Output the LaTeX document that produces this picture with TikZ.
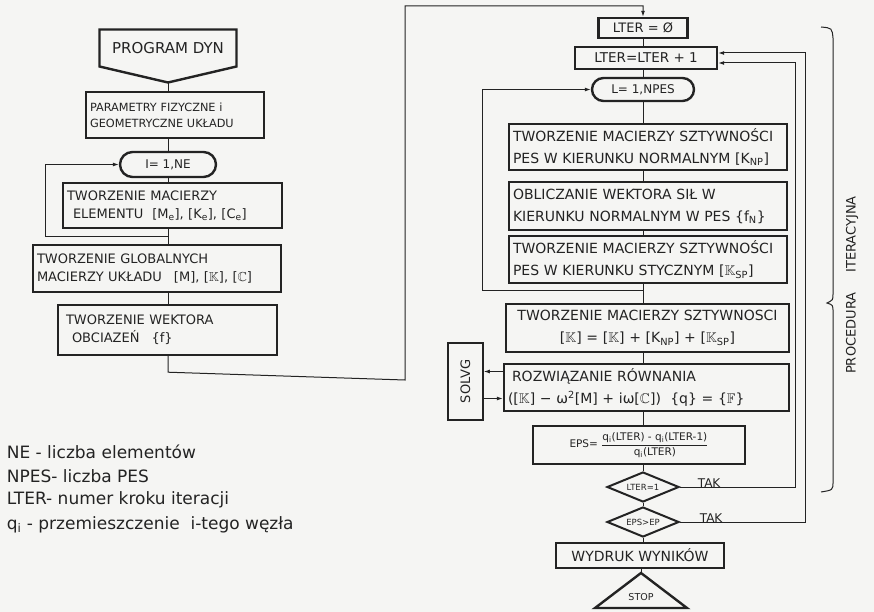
\documentclass[tikz,border=0pt]{standalone}
\usepackage{fontspec}
\usepackage{amsmath,amssymb}
\setmainfont{DejaVu Sans}
\usetikzlibrary{calc, positioning, arrows.meta, shapes.geometric, shapes.misc}
\definecolor{paper}{RGB}{245,245,243}
\definecolor{ink}{RGB}{35,35,35}
\newcommand{\dbl}[1]{$\mathbb{#1}$}

\begin{document}
\begin{tikzpicture}[x=1pt, y=-1pt, ink, line width=1pt,
  box/.style={draw=ink, line width=2.4pt, inner sep=4pt, align=left, font=\fontsize{13}{18}\selectfont},
  wide/.style={box, font=\fontsize{14}{22}\selectfont},
  loopbox/.style={rounded rectangle, draw=ink, line width=2.4pt, inner sep=2pt, font=\fontsize{12}{14}\selectfont},
  test/.style={diamond, aspect=2.5, draw=ink, line width=2pt, inner sep=0pt, font=\fontsize{8.5}{9}\selectfont},
  line/.style={draw=ink, line width=1pt},
  arrow/.style={line, -{Latex[length=6pt,width=4pt]}},
  lbl/.style={font=\fontsize{12}{14}\selectfont},
  note/.style={anchor=west, font=\fontsize{17}{20}\selectfont}]
  \fill[paper] (0,0) rectangle (874,612);
  \useasboundingbox (0,0) rectangle (874,612);

  % left column
  \node[font=\fontsize{15}{17}\selectfont, minimum width=136pt, minimum height=36pt] (prog) at (168,48) {PROGRAM DYN};
  \coordinate (progtip) at ($(prog.south)+(0,16)$);
  \draw[line width=2.4pt] (prog.north west) -- (prog.north east) -- (prog.south east) -- (progtip) -- (prog.south west) -- cycle;
  \node[box, font=\fontsize{11.3}{16}\selectfont, text width=170pt, minimum height=46pt] (param) at (175,115) {PARAMETRY FIZYCZNE i\\GEOMETRYCZNE UKŁADU};
  \node[loopbox, minimum width=100pt, minimum height=25pt] (ine) at (168,164.5) {I= 1,NE};
  \node[box, text width=211pt, minimum height=45pt] (elem) at (172.5,205.5) {TWORZENIE MACIERZY\\\hspace*{6pt}ELEMENTU\hspace{9pt}[M\textsubscript{e}], [K\textsubscript{e}], [C\textsubscript{e}]};
  \node[box, text width=240pt, minimum height=47pt] (glob) at (157,268.5) {TWORZENIE GLOBALNYCH\\MACIERZY UKŁADU\hspace{12pt}[M], [\dbl{K}], [\dbl{C}]};
  \node[box, text width=211pt, minimum height=50pt] (wekt) at (167.5,330) {\hspace*{4pt}TWORZENIE WEKTORA\\\hspace*{10pt}OBCIAZEŃ\hspace{12pt}\{f\}};

  \draw[line] (progtip) -- (param.north -| progtip);
  \foreach \a/\b in {param/ine, ine/elem, elem/glob, glob/wekt}
    \draw[line] (\a.south -| ine) -- (\b.north -| ine);
  \coordinate (lback) at (45,236);
  \draw[arrow] (lback -| ine) -- (lback) |- (ine.west);

  % right column
  \node[box, font=\fontsize{13}{15}\selectfont, align=center, minimum width=89pt, minimum height=20pt, inner sep=1pt] (lter0) at (643,28) {LTER = Ø};
  \node[box, font=\fontsize{13.5}{15}\selectfont, align=center, minimum width=142pt, minimum height=22pt, inner sep=1pt] (lterp) at (646,58) {LTER=LTER + 1};
  \node[loopbox, minimum width=106pt, minimum height=23pt] (lnpes) at (643,89.5) {L= 1,NPES};
  \node[wide, text width=270pt, minimum height=46pt] (boxA) at (648,147) {TWORZENIE MACIERZY SZTYWNOŚCI\\PES W KIERUNKU NORMALNYM [K\textsubscript{NP}]};
  \node[wide, text width=270pt, minimum height=48pt] (boxB) at (648,206) {OBLICZANIE WEKTORA SIŁ W\\KIERUNKU NORMALNYM W PES \{f\textsubscript{N}\}};
  \node[wide, text width=270pt, minimum height=47pt] (boxC) at (648,259.5) {TWORZENIE MACIERZY SZTYWNOŚCI\\PES W KIERUNKU STYCZNYM [\dbl{K}\textsubscript{SP}]};
  \node[wide, align=center, text width=275pt, minimum height=48pt] (boxD) at (647.5,328) {TWORZENIE MACIERZY SZTYWNOSCI\\{}[\dbl{K}] = [\dbl{K}] + [K\textsubscript{NP}] + [\dbl{K}\textsubscript{SP}]};
  \node[wide, text width=277pt, minimum height=47pt] (boxE) at (646.5,387.5) {\hspace*{4pt}ROZWIĄZANIE RÓWNANIA\\([\dbl{K}] − ω\textsuperscript{2}[M] + iω[\dbl{C}]) \ \{q\} = \{\dbl{F}\}};
  \node[draw=ink, line width=1.6pt, minimum width=35pt, minimum height=77pt, font=\fontsize{13}{14}\selectfont] (solvg) at (465.5,381.5) {\rotatebox{90}{SOLVG}};
  \node[box, font=\fontsize{10.5}{12}\selectfont, align=center, minimum width=212pt, minimum height=38pt, inner sep=1pt] (eps) at (639,445) {EPS= $\dfrac{\text{q\textsubscript{i}(LTER) - q\textsubscript{i}(LTER-1)}}{\text{q\textsubscript{i}(LTER)}}$};
  \node[test, minimum width=72pt, minimum height=30pt] (dia1) at (643,487) {LTER=1};
  \node[test, minimum width=72pt, minimum height=30pt] (dia2) at (643,522) {EPS>EP};
  \node[box, font=\fontsize{14}{16}\selectfont, align=center, minimum width=168pt, minimum height=25pt, inner sep=1pt] (wyd) at (640,555.5) {WYDRUK WYNIKÓW};
  \coordinate (stoptop) at (641,573);
  \node[font=\fontsize{9.5}{11}\selectfont] (stop) at (641,597) {STOP};
  \draw[line width=2.4pt] (stoptop) -- (595,608) -- (687,608) -- cycle;

  \foreach \a/\b in {lter0/lterp, lterp/lnpes, lnpes/boxA, boxA/boxB, boxB/boxC, boxC/boxD, boxD/boxE, boxE/eps, eps/dia1, dia1/dia2, dia2/wyd}
    \draw[line] (\a.south -| lter0) -- (\b.north -| lter0);
  \draw[line] (wyd.south -| stoptop) -- (stoptop);

  \coordinate (rback) at (482,290);
  \draw[arrow] (rback -| lter0) -- (rback) |- (lnpes.west);
  \coordinate (feedlo) at (405,380);
  \coordinate (feedhi) at (405,6);
  \draw[arrow] (wekt.south -| ine) -- ++(0,16) -- (feedlo) -- (feedhi) -| (lter0.north);

  \draw[arrow] ([yshift=16pt]boxE.west) -- ([yshift=16pt]boxE.west -| solvg.east);
  \draw[arrow] ([yshift=-11pt]boxE.west -| solvg.east) -- ([yshift=-11pt]boxE.west);

  \coordinate (takin) at (795,63);
  \coordinate (takout) at (805,53);
  \draw[arrow] (dia1.east) -| (takin) -- (lterp.east |- takin);
  \draw[arrow] (dia2.east) -| (takout) -- (lterp.east |- takout);
  \node[lbl, above right=-4pt and 14pt of dia1.east] (tak1) {TAK};
  \node[lbl, above right=-4pt and 16pt of dia2.east] (tak2) {TAK};

  % iteration brace
  \draw[line] (821,27) .. controls (832,28) .. (833,38) -- (833,294) .. controls (833,300) .. (827,303)
    .. controls (833,305) .. (833,312) -- (833,482) .. controls (833,490) .. (821,492);
  \node[rotate=90, font=\fontsize{13}{15}\selectfont] (proc) at (852,285) {PROCEDURA\hspace{20pt}ITERACYJNA};

  % legend
  \foreach \nm/\y/\txt in {ne/452/{NE - liczba elementów}, npes/476/{NPES- liczba PES},
                          lter/500/{LTER- numer kroku iteracji}, qi/525/{q\textsubscript{i} - przemieszczenie \ i-tego węzła}}
    \node[note] (\nm) at (3,\y) {\txt};
\end{tikzpicture}
\end{document}
